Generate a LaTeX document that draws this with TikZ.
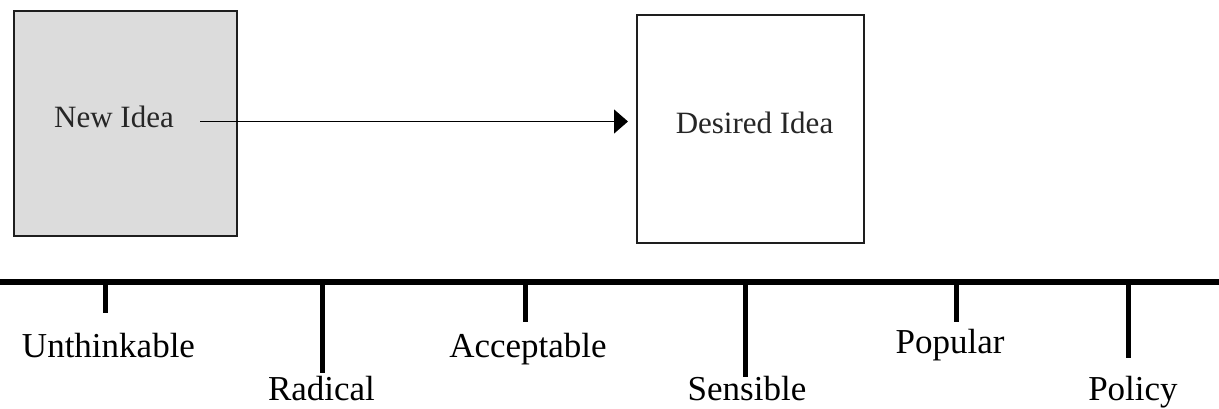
\documentclass[tikz,border=0pt]{standalone}
\usepackage{fontspec}
\setmainfont{Liberation Serif}
\usetikzlibrary{arrows.meta}
\definecolor{boxgray}{HTML}{DCDCDC}
\definecolor{edge}{HTML}{1E1E1E}
\tikzset{
  ideabox/.style={draw=edge, line width=1.6pt, rectangle, inner sep=0pt},
  boxtext/.style={font=\fontsize{31}{36}\selectfont, anchor=base, inner sep=0pt, text=black!85},
  scalelabel/.style={font=\fontsize{35}{40}\selectfont, anchor=base, inner sep=0pt},
  axisline/.style={line width=6pt, black},
  tickline/.style={line width=5pt, black},
  flow/.style={line width=1.4pt, black, -{Triangle[length=14pt,width=24pt]}}
}
\begin{document}
\begin{tikzpicture}[x=1pt,y=1pt]
\useasboundingbox (0,0) rectangle (1219,-409);
% boxes
\node[ideabox, fill=boxgray, minimum width=223pt, minimum height=225pt] (newbox) at (125.5,-123.5) {};
\node[ideabox, fill=white, minimum width=227pt, minimum height=228pt] (desbox) at (750.5,-129) {};
\node[boxtext] (newtext) at (114,-128) {New Idea};
\node[boxtext] (destext) at (754.5,-134) {Desired Idea};
% arrow
\coordinate (arrstart) at (200,-121.5);
\coordinate (arrend) at (628,-121.5);
\draw[flow] (arrstart) -- (arrend);
% axis
\coordinate (axL) at (0,-281.5);
\coordinate (axR) at (1219,-281.5);
\draw[axisline] (axL) -- (axR);
% ticks
\foreach \n/\x/\b in {t1/105/313, t2/322/373, t3/525/322, t4/745/377, t5/956/322, t6/1128/358}{
  \coordinate (\n top) at (\x,-281.5);
  \coordinate (\n bot) at (\x,-\b);
  \draw[tickline] (\n top) -- (\n bot);
}
% labels
\node[scalelabel] (lunthink) at (108.5,-357) {Unthinkable};
\node[scalelabel] (lradical) at (321.5,-400.5) {Radical};
\node[scalelabel] (laccept) at (528,-357) {Acceptable};
\node[scalelabel] (lsensible) at (747,-400.5) {Sensible};
\node[scalelabel] (lpopular) at (950,-353) {Popular};
\node[scalelabel] (lpolicy) at (1133,-400.5) {Policy};
\end{tikzpicture}
\end{document}
